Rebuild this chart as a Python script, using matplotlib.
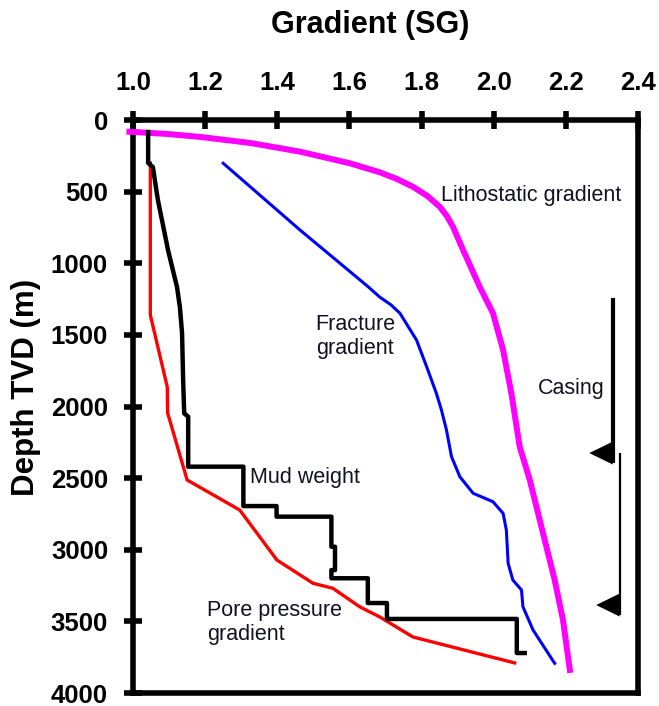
import matplotlib
matplotlib.use('Agg')
import matplotlib.pyplot as plt
import numpy as np

plt.rcParams['font.family'] = ['Liberation Sans', 'DejaVu Sans']

# well profile: gradient (SG) vs true vertical depth (m)
litho_sg = [0.99, 1.093, 1.186, 1.324, 1.463, 1.601, 1.684, 1.730, 1.776, 1.816,
            1.850, 1.870, 1.887, 1.915, 1.961, 1.998, 2.026, 2.049, 2.072, 2.100,
            2.123, 2.146, 2.169, 2.192, 2.211]
litho_depth = [82, 97, 118, 160, 221, 302, 365, 410, 466, 530,
               605, 670, 745, 907, 1164, 1349, 1606, 1909, 2281, 2513,
               2746, 2979, 3211, 3490, 3839]

frac_sg = [1.250, 1.463, 1.650, 1.684, 1.715, 1.740, 1.786, 1.814, 1.841, 1.855,
           1.869, 1.883, 1.906, 1.943, 1.975, 1.998, 2.026, 2.035, 2.040, 2.053,
           2.077, 2.081, 2.109, 2.169]
frac_depth = [302, 768, 1160, 1236, 1290, 1349, 1536, 1722, 1908, 2024,
              2164, 2350, 2490, 2606, 2640, 2665, 2746, 2862, 3095, 3211,
              3281, 3398, 3560, 3793]

pore_sg = [1.048, 1.048, 1.095, 1.096, 1.150, 1.296, 1.399, 1.499, 1.554, 1.629,
           1.684, 1.776, 2.058]
pore_depth = [300, 1361, 1864, 2045, 2513, 2723, 3072, 3234, 3269, 3399,
              3469, 3609, 3790]

mud_sg = [1.042, 1.042, 1.055, 1.069, 1.097, 1.122, 1.130, 1.136, 1.139, 1.142,
          1.153, 1.153, 1.306, 1.306, 1.398, 1.398, 1.550, 1.550, 1.560, 1.560,
          1.550, 1.550, 1.651, 1.651, 1.704, 1.704, 2.064, 2.064, 2.086]
mud_depth = [84, 300, 328, 558, 907, 1166, 1306, 1487, 1815, 2048,
             2071, 2420, 2420, 2695, 2695, 2769, 2769, 2979, 2979, 3142,
             3142, 3199, 3199, 3372, 3372, 3483, 3483, 3721, 3721]

casing_sg = [2.330, 2.349]
casing_top = [1243, 2325]
casing_shoe = [2325, 3386]
casing_lw = [3.0, 1.6]

fig = plt.figure(figsize=(6.59, 7.06), dpi=100)
ax = fig.add_axes([133 / 659, 13 / 706, 505 / 659, 573 / 706])

ax.plot(litho_sg, litho_depth, color='#ff00ff', lw=4.3, clip_on=False, zorder=3)
ax.plot(frac_sg, frac_depth, color='#0000ff', lw=2.2, zorder=3)
ax.plot(pore_sg, pore_depth, color='#ff0000', lw=2.4, zorder=3)
ax.plot(mud_sg, mud_depth, color='black', lw=3.2, zorder=4)

# casing strings with shoe markers
for x, top, shoe, lw in zip(casing_sg, casing_top, casing_shoe, casing_lw):
    ax.plot([x, x], [top, shoe + 70], color='black', lw=lw, solid_capstyle='butt')
    ax.fill([x, x, x - 0.065], [shoe - 80, shoe + 80, shoe], color='black', lw=0)

ax.set_xlim(1.0, 2.4)
ax.set_ylim(4000, 0)
ax.set_xticks(np.arange(1.0, 2.41, 0.2))
ax.set_xticklabels(['%.1f' % t for t in np.arange(1.0, 2.41, 0.2)])
ax.set_yticks(range(0, 4001, 500))
ax.xaxis.tick_top()

for s in ax.spines.values():
    s.set_linewidth(4)
ax.tick_params(axis='both', direction='inout', length=13, width=4, pad=11.5,
               labelsize=18.5)
for lab in ax.get_xticklabels() + ax.get_yticklabels():
    lab.set_fontweight('bold')

txt = dict(fontsize=15.5, color='#111122')
ax.text(2.105, 524, 'Lithostatic gradient', ha='center', va='center', **txt)
ax.text(1.615, 1511, 'Fracture\ngradient', ha='center', va='center',
        multialignment='center', **txt)
ax.text(2.216, 1871, 'Casing', ha='center', va='center', **txt)
ax.text(1.476, 2499, 'Mud weight', ha='center', va='center', **txt)
ax.text(1.205, 3508, 'Pore pressure\ngradient', ha='left', va='center',
        multialignment='left', **txt)

fig.text(370 / 659, 1 - 33 / 706, 'Gradient (SG)', ha='center', va='baseline',
         fontsize=22, fontweight='bold')
fig.text(26 / 659, 1 - 387 / 706, 'Depth TVD (m)', ha='center', va='center',
         rotation=90, fontsize=22.5, fontweight='bold')

fig.savefig('out.png', dpi=100)
